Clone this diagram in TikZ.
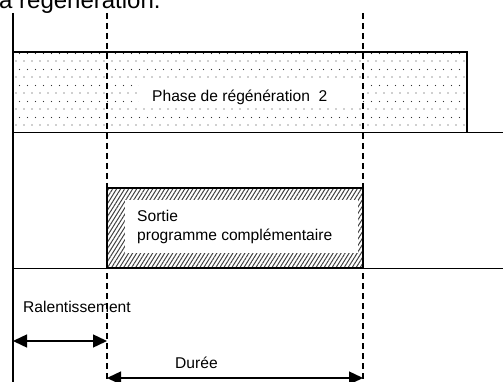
\documentclass[tikz,border=0pt]{standalone}
\usepackage{fontspec}
\setmainfont{Liberation Sans}
\usetikzlibrary{arrows.meta,patterns.meta}
\tikzdeclarepattern{name=sparsedots, type=uncolored,
  bounding box={(0pt,0pt) and (7.5pt,16pt)}, tile size={(7.5pt,16pt)},
  code={\fill (1pt,1pt) circle (0.65pt); \fill (4.75pt,9pt) circle (0.65pt);}}
\begin{document}
\begin{tikzpicture}[x=1pt,y=-1pt,
  solidline/.style={line width=1.5pt},
  thinline/.style={line width=1.1pt},
  guide/.style={line width=1.8pt, dash pattern=on 6pt off 4pt},
  lbl/.style={font=\fontsize{15.6}{19}\selectfont, inner sep=0pt, anchor=base west},
  dimarrow/.style={line width=1.4pt, {Triangle[length=14pt,width=13pt]}-{Triangle[length=14pt,width=13pt]}}]
\useasboundingbox (0,0) rectangle (503,382);
\node[anchor=base west, font=\fontsize{24}{28}\selectfont, inner sep=0pt] (title) at (-1,9) {a régénération.};
% dotted phase box
\fill[pattern=sparsedots, pattern color=black!80] (13,52) rectangle (467,132);
\fill[white] (139,83) rectangle (361,106);
\draw[solidline] (13,132) -- (13,52) -- (467,52) -- (467,132);
% hatched box
\fill[pattern={Lines[angle=58,distance=3.4pt,line width=1pt]}, pattern color=black!75] (107,188) rectangle (363,268);
\fill[white] (125,200) rectangle (358,253);
\draw[solidline] (107,188) rectangle (363,268);
% guides
\coordinate (aTop) at (13,13); \coordinate (aBot) at (13,382);
\coordinate (bTop) at (107,13); \coordinate (bBot) at (107,382);
\coordinate (cTop) at (363,13); \coordinate (cBot) at (363,382);
\draw[solidline] (aTop) -- (aBot);
\draw[guide] (bTop) -- (bBot);
\draw[guide] (cTop) -- (cBot);
% horizontal baselines
\coordinate (h1L) at (13,132.5); \coordinate (h1R) at (503,132.5);
\coordinate (h2L) at (13,268.5); \coordinate (h2R) at (503,268.5);
\draw[thinline] (h1L) -- (h1R);
\draw[thinline] (h2L) -- (h2R);
% texts
\node[lbl] (phase) at (152,102) {Phase de régénération\ \ 2};
\node[lbl] (sortie) at (137,221) {Sortie};
\node[lbl] (prog) at (137,240) {programme complémentaire};
\node[lbl] (ral) at (23,312) {Ralentissement};
\node[lbl] (dur) at (175,368) {Durée};
% arrows
\coordinate (ralL) at (13,341); \coordinate (ralR) at (107,341);
\coordinate (durL) at (107,378); \coordinate (durR) at (363,378);
\draw[dimarrow] (ralL) -- (ralR);
\draw[dimarrow] (durL) -- (durR);
\end{tikzpicture}
\end{document}
